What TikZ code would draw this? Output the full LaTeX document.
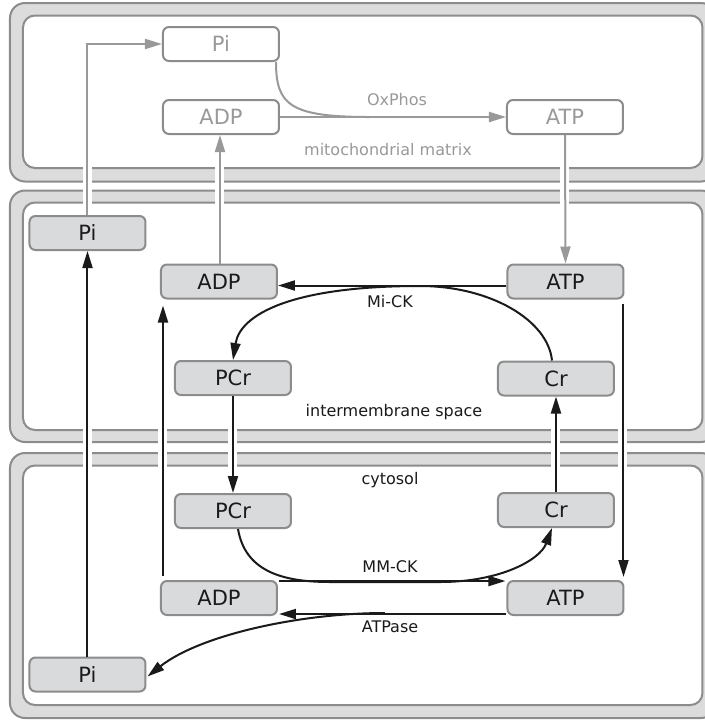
\documentclass[tikz,border=0pt]{standalone}
\usepackage{fontspec}
\setmainfont{DejaVu Sans}
\usetikzlibrary{arrows.meta}
\definecolor{bandfill}{HTML}{DCDCDC}
\definecolor{edgegray}{HTML}{8C8C8C}
\definecolor{boxfill}{HTML}{D9DADC}
\definecolor{fadegray}{HTML}{999999}
\definecolor{inkdark}{HTML}{1A1A1A}

\begin{document}
\begin{tikzpicture}[x=0.5pt,y=-0.5pt,
  band/.style={draw=edgegray,fill=bandfill,line width=1pt,rounded corners=7.5pt},
  room/.style={draw=edgegray,fill=white,line width=1pt,rounded corners=6pt},
  pool/.style={draw=edgegray,fill=boxfill,line width=1pt,rounded corners=3pt,
    minimum width=58pt,minimum height=17pt,inner sep=0pt,
    font=\fontsize{10.5}{12}\selectfont,text=inkdark},
  matrixpool/.style={pool,fill=white,text=fadegray},
  tag/.style={font=\fontsize{8}{9.6}\selectfont,text=inkdark,inner sep=0pt},
  fadetag/.style={tag,text=fadegray},
  flow/.style={draw=inkdark,line width=1pt,-{Triangle[length=8.5pt,width=5pt]}},
  gflow/.style={flow,draw=fadegray},
  gline/.style={draw=fadegray,line width=1pt},
  halo/.style={draw=white,line width=4.5pt}
]
\useasboundingbox (0,0) rectangle (705,720);

% compartments: outer membrane band and inner space
\draw[band] (10,3) rectangle (716,181.5);
\draw[room] (23,15.5) rectangle (702.5,168);
\draw[band] (10,190.5) rectangle (716,442);
\draw[room] (23,202.5) rectangle (702.5,430);
\draw[band] (10,453) rectangle (716,718);
\draw[room] (23,465.5) rectangle (702.5,705);

% mitochondrial matrix
\node[matrixpool] (PiT)  at (221,44)  {Pi};
\node[matrixpool] (ADPT) at (221,117) {ADP};
\node[matrixpool] (ATPT) at (565,117) {ATP};
\node[fadetag] (lblOx) at (397,100) {OxPhos};
\node[fadetag] (lblMat) at (388,150) {mitochondrial matrix};

% intermembrane space
\node[pool] (PiM)  at (87.5,233)  {Pi};
\node[pool] (ADPM) at (219,281.5) {ADP};
\node[pool] (ATPM) at (565.5,281.5) {ATP};
\node[pool] (PCrM) at (233,378)   {PCr};
\node[pool] (CrM)  at (556,378.5) {Cr};
\node[tag] (lblMi) at (390,302) {Mi-CK};
\node[tag] (lblIms) at (394,412) {intermembrane space};

% cytosol
\node[pool] (PCrB) at (233,511)   {PCr};
\node[pool] (CrB)  at (556,510)   {Cr};
\node[pool] (ADPB) at (219,598)   {ADP};
\node[pool] (ATPB) at (565.5,598) {ATP};
\node[pool] (PiB)  at (87.5,674.5) {Pi};
\node[tag] (lblCyt) at (390,480) {cytosol};
\node[tag] (lblMM) at (390,567) {MM-CK};
\node[tag] (lblAse) at (390,627) {ATPase};

% gaps between compartments crossed by transport lines
\coordinate (gapAtop) at (0,160);
\coordinate (gapAbot) at (0,210);
\coordinate (gapBtop) at (0,422);
\coordinate (gapBbot) at (0,473);
\foreach \n/\dx in {PiB/0,ADPM/1,ATPT/0}
  \draw[halo] ([shift={(\dx,0)}]\n.north |- gapAtop) -- ([shift={(\dx,0)}]\n.north |- gapAbot);
\foreach \n/\dx in {PiB/0,ADPB/-56,PCrM/0,CrB/0,ATPB/57}
  \draw[halo] ([shift={(\dx,0)}]\n.north |- gapBtop) -- ([shift={(\dx,0)}]\n.north |- gapBbot);

% oxidative phosphorylation
\coordinate (oxJoin) at (370,117);
\draw[gflow] (PiB.north |- PiM.north) |- (PiT.west);
\draw[gflow] ([shift={(1,0)}]ADPM.north) -- ([shift={(1,0)}]ADPM.north |- ADPT.south);
\draw[gflow] (ATPT.south) -- (ATPM.north);
\draw[gline] ([shift={(-4,0)}]PiT.south east) .. controls (276,105) and (290,117) .. (oxJoin);
\draw[gflow] (ADPT.east) -- (ATPT.west);

% transport across the outer membrane
\draw[flow] (PiB.north) -- (PiM.south);
\draw[flow] ([shift={(3,-4)}]ADPB.north west) -- ([shift={(3,6)}]ADPM.south west);
\draw[flow] (PCrM.south) -- (PCrB.north);
\draw[flow] (CrB.north) -- (CrM.south);
\draw[flow] ([shift={(-1,4)}]ATPM.south east) -- ([shift={(-1,-3)}]ATPB.north east);

% mitochondrial creatine kinase
\draw[flow] ([shift={(0,4)}]ATPM.west) -- ([shift={(0,4)}]ADPM.east);
\draw[flow] ([shift={(-4,0)}]CrM.north) .. controls (548,320) and (490,286) .. (420,286)
  .. controls (290,286) and (240,315) .. (PCrM.north);

% cytosolic creatine kinase
\draw[flow] ([shift={(5,0)}]PCrB.south) .. controls (245,570) and (280,582) .. (330,582)
  -- (440,582) .. controls (500,582) and (540,560) .. ([shift={(-4,0)}]CrB.south);
\draw[flow] ([shift={(1,1)}]ADPB.north east) -- ([shift={(-1,1)}]ATPB.north west);

% ATP hydrolysis
\coordinate (aseSplit) at (385,613);
\draw[flow] ([shift={(0,-2)}]ATPB.south west) -- ([shift={(1,-2)}]ADPB.south east);
\draw[flow] (aseSplit) .. controls (300,613) and (200,635) .. ([shift={(1,2)}]PiB.east);
\end{tikzpicture}
\end{document}
